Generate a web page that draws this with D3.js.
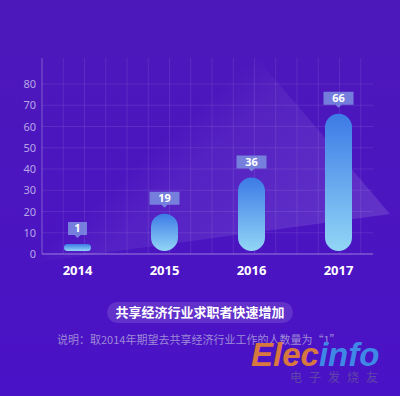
<!DOCTYPE html>
<html>
<head>
<meta charset="utf-8">
<script src="https://cdn.jsdelivr.net/npm/d3@7"></script>
<style>
  html, body { margin: 0; padding: 0; background: #4a15c0; }
  svg { display: block; }
</style>
</head>
<body>
<div class="graphContainer"></div>
<script>
// Chart data
var years = ["2014", "2015", "2016", "2017"];
var counts = [1, 19, 36, 66];
var yTicks = [0, 10, 20, 30, 40, 50, 60, 70, 80];
var titleText = "共享经济行业求职者快速增加";
var noteText = "说明：取2014年期望去共享经济行业工作的人数量为“1”";

var width = 400, height = 396;
var plot = {left: 42, right: 373, top: 58, bottom: 254};

var svg = d3.select(".graphContainer")
    .append("svg")
        .attr("width", width)
        .attr("height", height);

var defs = svg.append("defs");

// background gradient
var bg = defs.append("linearGradient").attr("id", "bg")
    .attr("x1", 0).attr("y1", 0).attr("x2", 0).attr("y2", 1);
bg.append("stop").attr("offset", "0%").attr("stop-color", "#4d18ba");
bg.append("stop").attr("offset", "100%").attr("stop-color", "#4a12c6");

// bar gradient
var barGrad = defs.append("linearGradient").attr("id", "barGrad")
    .attr("x1", 0).attr("y1", 0).attr("x2", 0).attr("y2", 1);
barGrad.append("stop").attr("offset", "0%").attr("stop-color", "#3c7ae6");
barGrad.append("stop").attr("offset", "100%").attr("stop-color", "#92d6f6");

// light beam: fades out toward its left side
var beam = defs.append("linearGradient").attr("id", "beam")
    .attr("gradientUnits", "userSpaceOnUse")
    .attr("x1", 250).attr("y1", 60).attr("x2", 390).attr("y2", 214);
beam.append("stop").attr("offset", "0%").attr("stop-color", "#ffffff").attr("stop-opacity", 0);
beam.append("stop").attr("offset", "20%").attr("stop-color", "#ffffff").attr("stop-opacity", 0.05);
beam.append("stop").attr("offset", "100%").attr("stop-color", "#ffffff").attr("stop-opacity", 0.13);

svg.append("rect")
    .attr("width", width).attr("height", height)
    .attr("fill", "url(#bg)");

// Scales
var x = d3.scaleBand().domain(years).range([34, 382]);
var y = d3.scaleLinear().domain([0, 80]).range([plot.bottom, 84]);
var step = y(0) - y(10);

svg.append("path")
    .attr("d", "M255,56 L390,214 L0,267 Z")
    .attr("fill", "url(#beam)");

// grid
var grid = svg.append("g").attr("class", "grid")
    .attr("stroke", "#ffffff").attr("stroke-opacity", 0.09);
d3.range(plot.left + step, plot.right + 2, step).forEach(function(gx) {
    grid.append("line")
        .attr("x1", gx).attr("x2", gx)
        .attr("y1", plot.top).attr("y2", plot.bottom);
});
yTicks.slice(1).forEach(function(t) {
    grid.append("line")
        .attr("x1", plot.left).attr("x2", plot.right)
        .attr("y1", y(t)).attr("y2", y(t));
});

// axes
svg.append("line")
    .attr("x1", plot.left).attr("x2", plot.left)
    .attr("y1", plot.top).attr("y2", plot.bottom)
    .attr("stroke", "#ffffff").attr("stroke-opacity", 0.3);
svg.append("line")
    .attr("x1", plot.left).attr("x2", plot.right)
    .attr("y1", plot.bottom).attr("y2", plot.bottom)
    .attr("stroke", "#ffffff").attr("stroke-opacity", 0.45);

var yAxis = d3.axisLeft(y).tickValues(yTicks).tickSize(0).tickPadding(6);
var yg = svg.append("g")
    .attr("transform", "translate(" + plot.left + ",0)")
    .call(yAxis);
yg.select(".domain").remove();
yg.selectAll("text")
    .attr("fill", "#b7a6e8")
    .style("font-family", "'Noto Sans', sans-serif")
    .style("font-size", "11px");

var xAxis = d3.axisBottom(x).tickSize(0).tickPadding(12);
var xg = svg.append("g")
    .attr("transform", "translate(0," + plot.bottom + ")")
    .call(xAxis);
xg.select(".domain").remove();
xg.selectAll("text")
    .attr("fill", "#ffffff")
    .style("font-family", "'Noto Sans', sans-serif")
    .style("font-weight", "bold")
    .style("font-size", "13px");

// bars
var barW = 27, gap = 3, minH = 7;
var data = years.map(function(yr, i) { return {year: yr, value: counts[i]}; });

var bars = svg.append("g").selectAll("g").data(data).enter().append("g");

bars.append("rect")
    .attr("x", function(d) { return x(d.year) + x.bandwidth() / 2 - barW / 2; })
    .attr("width", barW)
    .attr("y", function(d) { return Math.min(y(d.value), y(0) - gap - minH); })
    .attr("height", function(d) { return Math.max(y(0) - gap - y(d.value), minH); })
    .attr("rx", function(d) { return Math.min(barW / 2, Math.max(y(0) - gap - y(d.value), minH) / 2); })
    .attr("fill", "url(#barGrad)");

// value callouts
bars.each(function(d) {
    var g = d3.select(this);
    var cx = x(d.year) + x.bandwidth() / 2;
    var top = Math.min(y(d.value), y(0) - gap - minH);
    var bw = String(d.value).length > 1 ? 30 : 19;
    var bh = 13;
    var by = top - 9 - bh;
    g.append("path")
        .attr("d", "M" + (cx - bw / 2) + "," + by +
            " h" + bw + " v" + bh + " h" + (-(bw / 2 - 3)) +
            " l-3,3 l-3,-3 h" + (-(bw / 2 - 3)) + " Z")
        .attr("fill", "#7c8fe2").attr("fill-opacity", 0.85);
    g.append("text")
        .attr("x", cx).attr("y", by + bh / 2)
        .attr("dy", "0.36em")
        .attr("text-anchor", "middle")
        .attr("fill", "#ffffff")
        .style("font-family", "'Noto Sans', sans-serif")
        .style("font-weight", "bold")
        .style("font-size", "11px")
        .text(d.value);
});

// title pill
svg.append("rect")
    .attr("x", 107).attr("y", 302)
    .attr("width", 186).attr("height", 21).attr("rx", 10.5)
    .attr("fill", "#ffffff").attr("fill-opacity", 0.13);
svg.append("text")
    .attr("x", width / 2).attr("y", 312.5)
    .attr("dy", "0.36em")
    .attr("text-anchor", "middle")
    .attr("fill", "#ffffff")
    .style("font-family", "'Noto Sans CJK SC', sans-serif")
    .style("font-weight", "bold")
    .style("font-size", "13px")
    .text(titleText);

// footnote
svg.append("text")
    .attr("x", 57).attr("y", 340)
    .attr("dy", "0.36em")
    .attr("fill", "#9e8ad8")
    .style("font-family", "'Noto Sans CJK SC', sans-serif")
    .style("font-size", "11px")
    .text(noteText);

// watermark
var wm = svg.append("text")
    .attr("x", 251).attr("y", 366)
    .style("font-family", "'Liberation Sans', sans-serif")
    .style("font-weight", "bold")
    .style("font-style", "italic")
    .style("font-size", "33px");
wm.append("tspan").attr("fill", "#d8773f").text("Elec");
wm.append("tspan").attr("fill", "#3f88e6").text("info");
svg.append("text")
    .attr("x", 290).attr("y", 382)
    .attr("fill", "#5f46a8")
    .style("font-family", "'Noto Sans CJK SC', sans-serif")
    .style("font-size", "12px")
    .style("letter-spacing", "7px")
    .text("电子发烧友");
</script>
</body>
</html>
